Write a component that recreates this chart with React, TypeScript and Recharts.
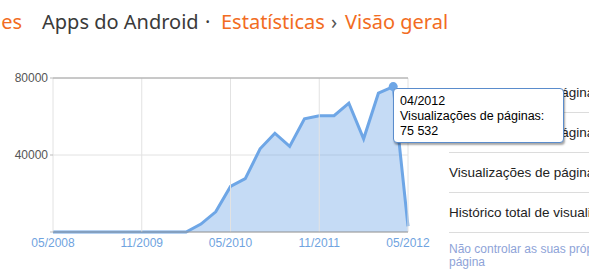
import {
  Area,
  AreaChart,
  CartesianGrid,
  ReferenceLine,
  Tooltip,
  XAxis,
  YAxis,
} from "recharts";

const months = [
  "05/2008", "08/2008", "11/2008", "02/2009", "05/2009", "08/2009",
  "11/2009", "12/2009", "01/2010", "02/2010", "03/2010", "04/2010",
  "05/2010", "08/2010", "11/2010", "02/2011", "05/2011", "08/2011",
  "11/2011", "12/2011", "01/2012", "02/2012", "03/2012", "04/2012",
  "05/2012",
];

const pageViews = [
  0, 0, 0, 0, 0, 0,
  0, 0, 0, 0, 4100, 10500,
  23700, 27700, 43200, 51300, 44500, 58800,
  60400, 60400, 66900, 48400, 72100, 75532,
  3000,
];

const labeledMonths = ["05/2008", "11/2009", "05/2010", "11/2011", "05/2012"];
const yTicks = [0, 40000, 80000];

const seriesName = "Visualizações de páginas";

const menuItems = [
  "Visualizações de páginas hoje",
  "Visualizações de páginas ontem",
  "Visualizações de páginas nos últimos 30 dias",
  "Histórico total de visualizações de páginas",
];

const optOutLines = ["Não controlar as suas próprias visualizações de", "página"];

const chartData = months.map((month, i) => ({ month, views: pageViews[i] }));

const LINE_COLOR = "#6ea6e6";
const ORANGE = "#f26c22";

const formatViews = (v: number) => String(v).replace(/\B(?=(\d{3})+(?!\d))/g, " ");

const ViewsTooltip = ({ active, payload, label }: any) => {
  if (!active || !payload || !payload.length) return null;
  return (
    <div
      style={{
        boxSizing: "border-box",
        width: 171,
        height: 55,
        padding: "5px 6px",
        background: "#fff",
        border: "1px solid #5a8ccc",
        borderRadius: 4,
        boxShadow: "1px 2px 2px rgba(0,0,0,0.35)",
        fontFamily: "'Liberation Sans', Arial, sans-serif",
        fontSize: 12.5,
        lineHeight: "15px",
        color: "#000",
        whiteSpace: "nowrap",
      }}
    >
      <div>{label}</div>
      <div>{seriesName}:</div>
      <div>{formatViews(payload[0].value)}</div>
    </div>
  );
};

const headerStyle = {
  position: "absolute" as const,
  top: 7,
  fontFamily: "'Noto Sans', 'Open Sans', sans-serif",
  fontSize: 20,
  lineHeight: "30px",
  whiteSpace: "nowrap" as const,
};

export default function App() {
  return (
    <div
      style={{
        position: "absolute",
        left: 0,
        top: 0,
        width: 589,
        height: 269,
        overflow: "hidden",
        background: "#fff",
      }}
    >
      {/* breadcrumb */}
      <span style={{ ...headerStyle, right: 567, color: ORANGE }}>ues</span>
      <span style={{ ...headerStyle, left: 42, color: "#3a3a3a" }}>Apps do Android</span>
      <span style={{ ...headerStyle, left: 205, color: "#3a3a3a" }}>·</span>
      <span style={{ ...headerStyle, left: 221, color: ORANGE }}>Estatísticas</span>
      <span style={{ ...headerStyle, left: 331, color: "#555" }}>›</span>
      <span style={{ ...headerStyle, left: 345, color: ORANGE }}>Visão geral</span>

      {/* right side menu */}
      {menuItems.map((text, i) => (
        <div
          key={text}
          style={{
            position: "absolute",
            left: 449,
            top: 73 + i * 40,
            width: 400,
            height: 39,
            borderBottom: "1px solid #dcdcdc",
            fontFamily: "'Liberation Sans', Arial, sans-serif",
            fontSize: 13.5,
            lineHeight: "40px",
            color: "#222",
            whiteSpace: "nowrap",
          }}
        >
          {text}
        </div>
      ))}
      <div
        style={{
          position: "absolute",
          left: 449,
          top: 243,
          fontFamily: "'Liberation Sans', Arial, sans-serif",
          fontSize: 12,
          lineHeight: "13px",
          color: "#8ea3d8",
          whiteSpace: "nowrap",
        }}
      >
        {optOutLines.map((line) => (
          <div key={line}>{line}</div>
        ))}
      </div>

      <div style={{ position: "absolute", left: 0, top: 0 }}>
        <AreaChart
          width={440}
          height={269}
          data={chartData}
          margin={{ top: 78, right: 32, bottom: 7, left: 0 }}
          style={{ fontFamily: "'Liberation Sans', Arial, sans-serif" }}
        >
          <CartesianGrid vertical={false} stroke="#e2e2e2" />
          {labeledMonths.map((m) => (
            <ReferenceLine key={m} x={m} stroke="#e2e2e2" />
          ))}
          <ReferenceLine y={80000} stroke="#a0a0a0" />
          <XAxis
            dataKey="month"
            interval={5}
            tickLine={false}
            tickSize={0}
            tickMargin={6}
            height={30}
            axisLine={{ stroke: "#9a9a9a" }}
            tick={{ fill: "#6fa3e0", fontSize: 12 }}
          />
          <YAxis
            width={53}
            domain={[0, 80000]}
            ticks={yTicks}
            axisLine={false}
            tickSize={3}
            tickLine={{ stroke: "#bbb" }}
            tick={{ fill: "#555", fontSize: 12 }}
            tickFormatter={(v: number) => (v === 0 ? "" : String(v))}
          />
          <Area
            type="linear"
            dataKey="views"
            name={seriesName}
            stroke={LINE_COLOR}
            strokeWidth={3}
            fill={LINE_COLOR}
            fillOpacity={0.4}
            dot={false}
            activeDot={{ r: 4.5, fill: LINE_COLOR, stroke: "none" }}
            isAnimationActive={false}
          />
          <Tooltip
            defaultIndex={23}
            cursor={false}
            position={{ x: 393, y: 88 }}
            allowEscapeViewBox={{ x: true, y: true }}
            wrapperStyle={{ zIndex: 10, outline: "none" }}
            content={<ViewsTooltip />}
            isAnimationActive={false}
          />
        </AreaChart>
      </div>
    </div>
  );
}
